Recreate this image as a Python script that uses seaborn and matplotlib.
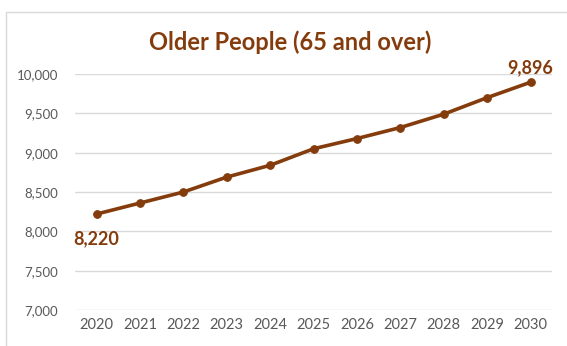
import matplotlib
matplotlib.use("Agg")
import matplotlib.pyplot as plt
import seaborn as sns
import pandas as pd
from matplotlib.patches import Rectangle
from matplotlib.ticker import FuncFormatter

years = ["2020", "2021", "2022", "2023", "2024", "2025", "2026", "2027", "2028", "2029", "2030"]
people = [8220, 8360, 8500, 8690, 8840, 9050, 9180, 9320, 9490, 9700, 9896]
yticks = [7000, 7500, 8000, 8500, 9000, 9500, 10000]

brown = "#843C0C"
grey = "#595959"

sns.set_theme(style="white")
plt.rcParams['font.family'] = ['Lato', 'DejaVu Sans']

df = pd.DataFrame({"Year": years, "People": people})

fig = plt.figure(figsize=(5.67, 3.46), dpi=100)
ax = fig.add_axes([0.132, 0.104, 0.842, 0.682])

# light chart frame like the spreadsheet chart area
fig.patches.append(Rectangle((6 / 567, -0.1), 1.2, 1 - 12 / 346 + 0.1, transform=fig.transFigure,
                             fill=False, edgecolor="#D9D9D9", linewidth=1))

sns.lineplot(data=df, x="Year", y="People", ax=ax, color=brown, linewidth=2.6,
             marker="o", markersize=5.5, markeredgecolor=brown, sort=False)

ax.set_ylim(7000, 10000)
ax.set_xlim(-0.5, len(years) - 0.5)
ax.set_yticks(yticks)
ax.yaxis.set_major_formatter(FuncFormatter(lambda v, p: f"{int(v):,}"))
ax.grid(axis="y", color="#D9D9D9", linewidth=1)
ax.set_axisbelow(True)
for s in ax.spines.values():
    s.set_visible(False)
ax.set_xlabel("")
ax.set_ylabel("")
ax.tick_params(axis="y", labelsize=9.5, colors=grey, length=0, pad=12)
ax.tick_params(axis="x", labelsize=10.5, colors=grey, length=0, pad=6)

# data labels on first and last point
ax.annotate(f"{people[0]:,}", (0, people[0]), xytext=(0, -12), textcoords="offset points",
            ha="center", va="top", fontsize=13, fontweight="bold", color=brown)
ax.annotate(f"{people[-1]:,}", (len(years) - 1, people[-1]), xytext=(0, 4), textcoords="offset points",
            ha="center", va="bottom", fontsize=13, fontweight="bold", color=brown)

fig.text(0.512, 0.878, "Older People (65 and over)", ha="center", va="center",
         fontsize=17, fontweight="bold", color=brown)

fig.savefig("out.png", dpi=100, facecolor="white")
